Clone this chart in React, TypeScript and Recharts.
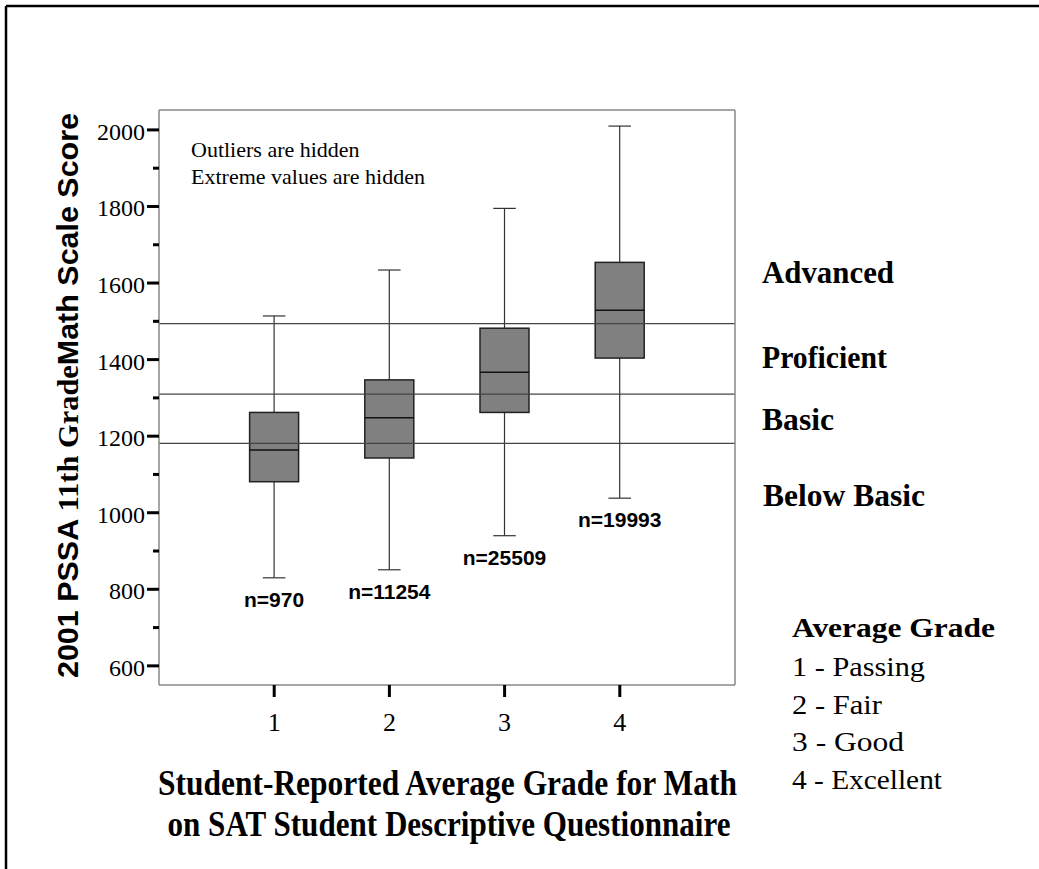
import { ComposedChart, Bar, XAxis, YAxis, ReferenceLine } from "recharts";

const grades = [1, 2, 3, 4];
const lowWhisker = [830, 851, 940, 1038];
const q1 = [1081, 1143, 1262, 1404];
const medians = [1164, 1248, 1367, 1529];
const q3 = [1262, 1347, 1482, 1654];
const highWhisker = [1514, 1634, 1795, 2010];
const counts = [970, 11254, 25509, 19993];
const levelCuts = [1181, 1310, 1494];
const yTicks = [600, 700, 800, 900, 1000, 1100, 1200, 1300, 1400, 1500, 1600, 1700, 1800, 1900, 2000];
const legendItems = ["1 - Passing", "2 - Fair", "3 - Good", "4 - Excellent"];
const legendWidths = [133, 90, 112, 150];

const rows = grades.map((g, i) => ({
  grade: g,
  range: [lowWhisker[i], highWhisker[i]],
  min: lowWhisker[i],
  q1: q1[i],
  median: medians[i],
  q3: q3[i],
  max: highWhisker[i],
  n: counts[i],
}));

const SERIF = "'Liberation Serif', 'Times New Roman', serif";
const SANS = "'Liberation Sans', Arial, sans-serif";
const FRAME = { stroke: "#888", strokeWidth: 1.5 };

function BoxShape(props: any) {
  const { x, y, width, height, payload } = props;
  if (!payload) return null;
  const { min, max } = payload;
  // linear scale between whisker ends, already placed by recharts
  const toY = (v: number) => y + (height * (max - v)) / (max - min);
  const cx = x + width / 2;
  const cap = width * 0.23;
  const yq1 = toY(payload.q1);
  const yq3 = toY(payload.q3);
  const ymed = toY(payload.median);
  const ymin = y + height;
  return (
    <g>
      <line x1={cx} x2={cx} y1={y} y2={ymin} stroke="#333" strokeWidth={1.2} />
      <line x1={cx - cap} x2={cx + cap} y1={y} y2={y} stroke="#333" strokeWidth={1.2} />
      <line x1={cx - cap} x2={cx + cap} y1={ymin} y2={ymin} stroke="#333" strokeWidth={1.2} />
      <rect x={x} y={yq3} width={width} height={yq1 - yq3} fill="#808080" stroke="#222" strokeWidth={1.5} />
      <line x1={x} x2={x + width} y1={ymed} y2={ymed} stroke="#111" strokeWidth={1.5} />
      <text
        x={cx}
        y={ymin + 29}
        textAnchor="middle"
        fontFamily={SANS}
        fontWeight="bold"
        fontSize={21}
        fill="#000"
      >
        {`n=${payload.n}`}
      </text>
    </g>
  );
}

function YTick(props: any) {
  const { x, y, payload } = props;
  const major = payload.value % 200 === 0;
  return (
    <g>
      <line x1={x - (major ? 12 : 6)} x2={x} y1={y} y2={y} stroke="#000" strokeWidth={3} />
      {major && (
        <text x={x - 14} y={y + 10} textAnchor="end" fontFamily={SERIF} fontSize={24} fill="#000">
          {payload.value}
        </text>
      )}
    </g>
  );
}

function XTick(props: any) {
  const { x, y, payload } = props;
  return (
    <g>
      <line x1={x} x2={x} y1={y} y2={y + 12} stroke="#000" strokeWidth={3} />
      <text x={x} y={y + 46} textAnchor="middle" fontFamily={SERIF} fontSize={26} fill="#000">
        {payload.value}
      </text>
    </g>
  );
}

export default function App() {
  return (
    <div style={{ position: "absolute", left: 0, top: 0, width: 1039, height: 869, background: "#fff" }}>
      <ComposedChart
        width={1039}
        height={869}
        data={rows}
        margin={{ top: 109, right: 303, bottom: 144, left: 99 }}
      >
        <XAxis
          dataKey="grade"
          type="category"
          padding={{ left: 57.6, right: 57.6 }}
          height={40}
          axisLine={FRAME}
          tickLine={false}
          tickSize={0}
          tickMargin={0}
          tick={<XTick />}
        />
        <XAxis
          xAxisId="top"
          orientation="top"
          dataKey="grade"
          type="category"
          height={1}
          axisLine={FRAME}
          tickLine={false}
          tick={false}
        />
        <YAxis
          type="number"
          domain={[550, 2052]}
          allowDataOverflow
          ticks={yTicks}
          interval={0}
          width={60}
          axisLine={FRAME}
          tickLine={false}
          tickSize={0}
          tickMargin={0}
          tick={<YTick />}
        />
        <YAxis
          yAxisId="right"
          orientation="right"
          type="number"
          domain={[550, 2052]}
          width={1}
          axisLine={FRAME}
          tickLine={false}
          tick={false}
        />
        <Bar dataKey="range" barSize={49} shape={<BoxShape />} isAnimationActive={false} />
        {levelCuts.map((v) => (
          <ReferenceLine key={v} y={v} stroke="#444" strokeWidth={1.2} />
        ))}
      </ComposedChart>

      <svg
        width={1039}
        height={869}
        style={{ position: "absolute", left: 0, top: 0, pointerEvents: "none" }}
      >
        <line x1={6} x2={1039} y1={6} y2={6} stroke="#000" strokeWidth={2.5} />
        <line x1={6} x2={6} y1={6} y2={869} stroke="#000" strokeWidth={2.5} />

        <text x={191} y={157} fontFamily={SERIF} fontSize={22} fill="#000">
          Outliers are hidden
        </text>
        <text x={191} y={184} fontFamily={SERIF} fontSize={22} fill="#000">
          Extreme values are hidden
        </text>

        <g fontFamily={SERIF} fontWeight="bold" fontSize={31} fill="#000">
          <text x={762} y={283} textLength={132} lengthAdjust="spacingAndGlyphs">Advanced</text>
          <text x={762} y={368} textLength={125} lengthAdjust="spacingAndGlyphs">Proficient</text>
          <text x={762} y={430} textLength={72} lengthAdjust="spacingAndGlyphs">Basic</text>
          <text x={763} y={506} textLength={162} lengthAdjust="spacingAndGlyphs">Below Basic</text>
        </g>

        <text x={792} y={637} fontFamily={SERIF} fontWeight="bold" fontSize={28} textLength={203} lengthAdjust="spacingAndGlyphs">
          Average Grade
        </text>
        {legendItems.map((t, i) => (
          <text
            key={t}
            x={792}
            y={676 + i * 37.7}
            fontFamily={SERIF}
            fontSize={28}
            textLength={legendWidths[i]}
            lengthAdjust="spacingAndGlyphs"
            fill="#000"
          >
            {t}
          </text>
        ))}

        <g fontFamily={SERIF} fontWeight="bold" fontSize={35} fill="#000" textAnchor="middle">
          <text x={447.5} y={795} textLength={579} lengthAdjust="spacingAndGlyphs">
            Student-Reported Average Grade for Math
          </text>
          <text x={449} y={836} textLength={563} lengthAdjust="spacingAndGlyphs">
            on SAT Student Descriptive Questionnaire
          </text>
        </g>

        <text
          x={67}
          y={395.5}
          transform="rotate(-90, 67, 395.5)"
          textAnchor="middle"
          dominantBaseline="central"
          fontWeight="bold"
          fontSize={30}
          textLength={565}
          lengthAdjust="spacingAndGlyphs"
          fill="#000"
        >
          <tspan fontFamily={SANS}>2001 PSSA </tspan>
          <tspan fontFamily={SERIF}>11th Grade</tspan>
          <tspan fontFamily={SANS}>Math Scale Score</tspan>
        </text>
      </svg>
    </div>
  );
}
